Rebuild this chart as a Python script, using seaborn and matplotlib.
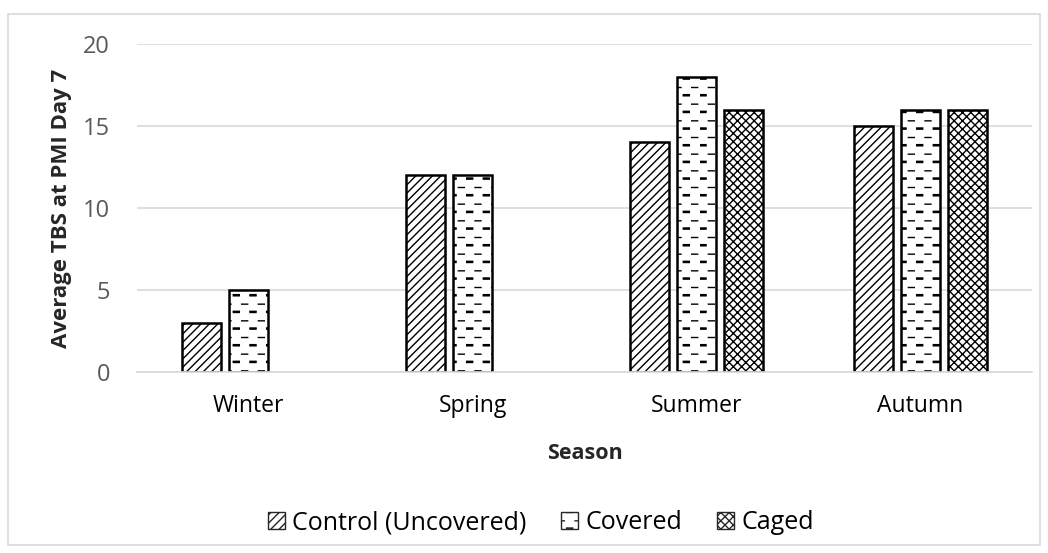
import warnings
import pandas as pd
import numpy as np
import matplotlib.pyplot as plt
import seaborn as sns
from matplotlib import hatch as mhatch
from matplotlib.path import Path
from matplotlib.patches import Patch, Rectangle

warnings.filterwarnings('ignore')

seasons = ['Winter', 'Spring', 'Summer', 'Autumn']
treatments = ['Control (Uncovered)', 'Covered', 'Caged']
control = [3, 12, 14, 15]
covered = [5, 12, 18, 16]
caged = [np.nan, np.nan, 16, 16]
hatches = ['////', '_', 'xxxx']


# staggered dashed rows (Excel "dashed horizontal" pattern), used for hatch '_'
class DashRows(mhatch.HatchPatternBase):
    rows, per_row, dash = 12, 6, 0.06

    def __init__(self, hatch, density):
        self.segs = self._segments() if '_' in hatch else []
        self.num_vertices = 2 * len(self.segs)

    def _segments(self):
        segs = []
        period = 1.0 / self.per_row
        for i in range(self.rows):
            y = (i + 0.5) / self.rows
            off = 0 if i % 2 == 0 else period / 2
            ys = [y, y + 0.012] if i % 2 == 0 else [y]
            for k in range(-1, self.per_row + 1):
                x0, x1 = max(off + k * period, 0), min(off + k * period + self.dash, 1)
                if x1 > x0:
                    segs += [(x0, x1, yy) for yy in ys]
        return segs

    def set_vertices_and_codes(self, vertices, codes):
        for j, (x0, x1, y) in enumerate(self.segs):
            vertices[2 * j] = (x0, y)
            vertices[2 * j + 1] = (x1, y)
            codes[2 * j] = Path.MOVETO
            codes[2 * j + 1] = Path.LINETO


mhatch._hatch_types.append(DashRows)

df = pd.DataFrame({
    'Season': seasons * 3,
    'Treatment': [t for t in treatments for _ in seasons],
    'TBS': control + covered + caged,
})

sns.set_style('white')
plt.rcParams['font.family'] = ['Open Sans', 'DejaVu Sans']
plt.rcParams['hatch.linewidth'] = 1.0

fig = plt.figure(figsize=(10.48, 5.53), dpi=100)
ax = fig.add_axes([0.1307, 0.3273, 0.854, 0.593])

sns.barplot(data=df, x='Season', y='TBS', hue='Treatment', order=seasons,
            hue_order=treatments, palette=['white'] * 3, width=0.63, gap=0.17,
            edgecolor='black', linewidth=1.8, legend=False, ax=ax)

for cont, h in zip(ax.containers, hatches):
    for bar in cont:
        bar.set_hatch(h)

ax.set_ylim(0, 20)
ax.set_yticks([0, 5, 10, 15, 20])
ax.yaxis.grid(True, color='#d9d9d9', linewidth=1.2)
ax.set_axisbelow(True)
for s in ['top', 'right', 'left']:
    ax.spines[s].set_visible(False)
ax.spines['bottom'].set_color('#d9d9d9')
ax.spines['bottom'].set_linewidth(1.2)
ax.tick_params(axis='y', colors='#595959', labelsize=17, length=0, pad=19.5)
ax.tick_params(axis='x', colors='black', labelsize=16.5, length=0, pad=16)
ax.set_xlabel('Season', fontsize=15.5, fontweight='bold', labelpad=18)
ax.set_ylabel('Average TBS at PMI Day 7', fontsize=16, fontweight='bold', labelpad=8)

handles = [Patch(facecolor='white', edgecolor='#262626', hatch=h, label=t)
           for t, h in zip(treatments, hatches)]
fig.legend(handles=handles, loc='center', bbox_to_anchor=(0.516, 0.055), ncol=3,
           frameon=False, fontsize=18, handlelength=0.68, handleheight=0.68,
           handletextpad=0.28, columnspacing=1.4, labelcolor='black',
           borderpad=0, borderaxespad=0)

fig.patches.append(Rectangle((0.008, 0.015), 0.984, 0.96, transform=fig.transFigure,
                             fill=False, edgecolor='#d9d9d9', linewidth=1.2))

fig.savefig('out.png', dpi=100)
